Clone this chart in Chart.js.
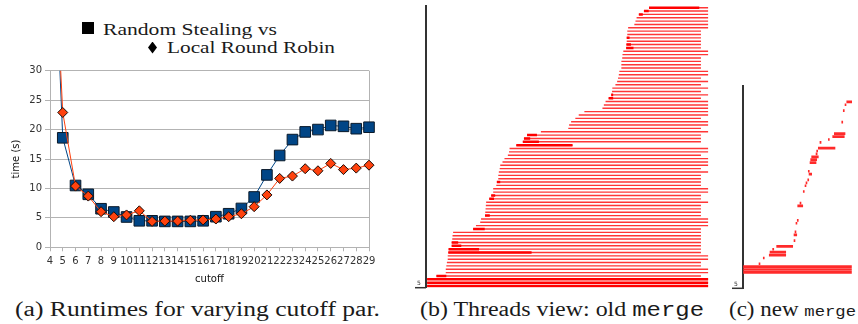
<!DOCTYPE html>
<html lang="en">
<head>
    <meta charset="UTF-8">
    <title>Runtimes and threads view</title>
    <script src="https://cdn.jsdelivr.net/npm/chart.js"></script>
    <style>
        body { margin: 0; background: #fff; }
        #page { position: relative; width: 858px; height: 324px; overflow: hidden; background: #fff; }
        .box { position: absolute; }
        .tx { position: absolute; white-space: nowrap; line-height: 1; color: #1a1a1a; transform-origin: 0 0;
              font-family: "Liberation Serif", "DejaVu Serif", serif; }
        .tt { font-family: "Liberation Mono", "DejaVu Sans Mono", monospace; }
        .sq { position: absolute; width: 11.5px; height: 11.5px; background: #000; }
        .dm { position: absolute; width: 9px; height: 12px; background: #000;
              clip-path: polygon(50% 0, 100% 50%, 50% 100%, 0 50%); }
    </style>
</head>
<body>
<div id="page">
    <!-- legend of panel (a) -->
    <div class="sq" style="left:82px;top:22px"></div>
    <div class="tx" style="left:103px;top:21.6px;font-size:16px" data-w="174">Random Stealing vs</div>
    <div class="dm" style="left:148px;top:41.5px"></div>
    <div class="tx" style="left:167px;top:39.9px;font-size:16px" data-w="168">Local Round Robin</div>

    <div class="box" style="left:0;top:60px"><canvas id="runtime" width="385" height="232"></canvas></div>
    <div class="box" style="left:400px;top:0"><canvas id="oldMerge" width="315" height="295"></canvas></div>
    <div class="box" style="left:720px;top:80px"><canvas id="newMerge" width="138" height="215"></canvas></div>

    <!-- captions -->
    <div class="tx" style="left:15px;top:299.3px;font-size:20px" data-w="365">(a) Runtimes for varying cutoff par.</div>
    <div class="tx" style="left:420px;top:299.3px;font-size:20px" data-w="284">(b) Threads view: old <span class="tt">merge</span></div>
    <div class="tx" style="left:729px;top:299.3px;font-size:20px" data-w="127">(c) new <span class="tt" style="font-size:15px">merge</span></div>
</div>

<script>
    // (a) runtimes, seconds
    const cutoff = [4, 5, 6, 7, 8, 9, 10, 11, 12, 13, 14, 15, 16, 17, 18, 19, 20, 21, 22, 23, 24, 25, 26, 27, 28, 29];
    const stealTimes = [70, 18.6, 10.5, 9.0, 6.55, 6.0, 5.15, 4.5, 4.5, 4.4, 4.4, 4.4, 4.5, 5.2, 5.7, 6.6, 8.55, 12.3, 15.6, 18.3, 19.6, 20.0, 20.7, 20.55, 20.15, 20.4];
    const robinTimes = [67, 22.9, 10.4, 8.7, 6.05, 5.2, 5.5, 6.2, 4.4, 4.45, 4.45, 4.6, 4.65, 4.8, 5.2, 5.7, 6.9, 8.9, 11.7, 12.1, 13.35, 13.0, 14.25, 13.2, 13.45, 13.95];
    const timeTicks = [0, 5, 10, 15, 20, 25, 30];

    // (b) old merge: one entry per thread, top row first, time in % of run
    const oldStart = [79.0, 77.2, 75.4, 74.6, 74.2, 73.8, 71.6, 71.3, 71.3, 71.1, 71.1, 71.0, 70.9, 69.9, 69.6, 69.5, 69.2, 69.2, 69.2, 68.5,
        68.3, 68.0, 67.7, 67.1, 66.0, 65.9, 65.6, 64.7, 63.6, 63.0, 62.5, 56.1, 54.1, 52.9, 51.4, 50.7, 50.4, 40.7, 35.8, 34.7,
        34.3, 32.0, 29.6, 29.4, 29.0, 27.8, 27.1, 26.3, 26.1, 25.8, 25.6, 25.6, 25.1, 24.9, 23.8, 23.8, 23.1, 22.4, 21.3, 21.2,
        21.1, 21.0, 20.9, 19.5, 19.2, 17.7, 16.7, 9.6, 9.4, 9.3, 9.1, 9.1, 8.0, 7.9, 7.7, 7.7, 7.4, 7.2, 7.0, 7.0,
        3.7, 0.4, 0.4, 0.4];
    const oldEnd = [100, 100, 100, 100, 100, 100, 100, 97.4, 97.4, 97.4, 97.4, 97.4, 97.4, 100, 100, 97.4, 97.4, 97.4, 97.4, 100,
        100, 97.4, 100, 97.4, 100, 97.4, 100, 97.4, 100, 100, 100, 100, 100, 97.4, 100, 100, 97.4, 100, 97.4, 97.4,
        97.4, 51.9, 100, 100, 97.4, 100, 100, 100, 97.4, 100, 97.4, 97.4, 97.4, 97.4, 100, 100, 97.4, 97.4, 100, 97.4,
        97.4, 97.4, 97.4, 100, 100, 100, 97.4, 97.4, 97.4, 97.4, 97.4, 97.4, 97.4, 97.4, 100, 100, 97.4, 97.4, 100, 100,
        97.4, 100, 100, 100];
    const oldBurstEnd = [96.8, 78.9, 76.8, null, null, null, null, null, null, 72.1, null, 72.6, 73.5, null, null, null, null, null, null, null,
        null, null, null, null, null, null, 66.3, 66.3, null, null, null, null, null, null, null, null, null, null, 39.3, 36.9,
        40.0, 51.9, null, null, null, null, null, null, null, null, null, null, 26.3, null, null, null, 24.5, 24.1, null, null,
        null, null, 22.6, null, null, null, 20.8, null, null, null, 11.4, 12.5, 18.8, 37.4, null, null, null, null, null, null,
        7.2, 100, 100, 100];

    // (c) new merge: thread row (0 = bottom), start and end in % of run
    const newRow = [0, 1, 2, 3, 5, 6, 7, 8, 9, 11, 13, 14, 17, 18, 23, 24, 28, 30, 31, 32, 34, 35, 38, 39, 40, 41, 42, 43, 45, 46, 47, 48, 52, 56, 58, 59];
    const newStart = [0.5, 0.5, 0.5, 14.7, 18.6, 24.1, 24.8, 27.2, 30.9, 46.8, 46.8, 47.7, 48.6, 49.8, 50.2, 52.3, 55.3, 56.9, 57.8, 59.4,
        60.6, 59.9, 61.5, 62.1, 63.0, 67.0, 67.6, 69.1, 70.6, 78.3, 82.3, 83.8, 90.6, 92.0, 93.6, 95.2];
    const newEnd = [99.5, 99.5, 99.5, 15.6, 19.5, 39.2, 39.2, 28.2, 45.6, 47.7, 49.3, 48.6, 49.5, 50.7, 54.8, 53.2, 56.2, 57.8, 58.7, 60.3,
        63.0, 60.8, 67.0, 67.6, 69.1, 68.0, 68.5, 84.4, 71.6, 79.2, 92.9, 93.6, 91.5, 92.9, 94.5, 99.7];

    const sans = '"DejaVu Sans", sans-serif';

    new Chart(document.getElementById('runtime'), {
        type: 'line',
        data: {
            labels: cutoff,
            datasets: [
                {
                    label: 'Local Round Robin', data: robinTimes, order: 0,
                    borderColor: '#ff420e', borderWidth: 1,
                    pointStyle: 'rectRot', pointRadius: 5,
                    pointBackgroundColor: '#ff420e', pointBorderColor: '#1a0a05', pointBorderWidth: 1
                },
                {
                    label: 'Random Stealing', data: stealTimes, order: 1,
                    borderColor: '#004586', borderWidth: 1,
                    pointStyle: 'rect', pointRadius: 7.5,
                    pointBackgroundColor: '#004586', pointBorderColor: '#0a1a2a', pointBorderWidth: 1
                }
            ]
        },
        options: {
            responsive: false,
            animation: false,
            layout: { padding: { left: 0, top: 10.7, right: 16, bottom: 4 } },
            plugins: { legend: { display: false }, tooltip: { enabled: false } },
            scales: {
                x: {
                    ticks: { autoSkip: false, maxRotation: 0, padding: 4, color: '#333', font: { family: sans, size: 10 } },
                    grid: {
                        tickLength: 4, tickColor: '#b3b3b3',
                        color: c => c.index === cutoff.length - 1 ? '#b3b3b3' : 'rgba(0,0,0,0)'
                    },
                    border: { color: '#b3b3b3' },
                    title: { display: true, text: 'cutoff', color: '#111', font: { family: sans, size: 10 }, padding: { top: 0, bottom: 3 } },
                    afterFit: s => { s.height = 40.7; }
                },
                y: {
                    min: 0, max: 30,
                    afterBuildTicks: s => { s.ticks = timeTicks.map(v => ({ value: v })); },
                    ticks: { padding: 3, color: '#333', font: { family: sans, size: 10 } },
                    grid: { tickLength: 5, color: '#b3b3b3', tickColor: '#b3b3b3' },
                    border: { color: '#b3b3b3' },
                    title: { display: true, text: 'time (s)', color: '#111', font: { family: sans, size: 10 }, padding: { top: 10, bottom: 0 } },
                    afterFit: s => { s.width = 50; }
                }
            }
        }
    });

    // little "5" foot under the thread axis
    const axisFoot = {
        id: 'axisFoot',
        afterDraw(chart) {
            const { ctx, chartArea: a } = chart;
            ctx.save();
            ctx.strokeStyle = '#333';
            ctx.lineWidth = 1.5;
            ctx.beginPath();
            ctx.moveTo(a.left - 11, a.bottom);
            ctx.lineTo(a.left, a.bottom);
            ctx.stroke();
            ctx.fillStyle = '#333';
            ctx.font = '6px ' + sans;
            ctx.fillText('5', a.left - 9, a.bottom - 2.5);
            ctx.restore();
        }
    };

    const threadScales = (yScale) => ({
        x: { type: 'linear', min: 0, max: 100, display: false },
        y: Object.assign(yScale, {
            ticks: { display: false },
            grid: { display: false, drawTicks: false },
            border: { display: true, color: '#333', width: 2 },
            afterFit: s => { s.width = 0; }
        })
    });

    new Chart(document.getElementById('oldMerge'), {
        type: 'bar',
        data: {
            labels: oldStart.map((s, i) => i + 1),
            datasets: [
                {
                    label: 'burst', data: oldBurstEnd.map((b, i) => b == null ? null : [oldStart[i], b]),
                    backgroundColor: '#ff0000', grouped: false, barPercentage: 0.75, categoryPercentage: 1
                },
                {
                    label: 'thread', data: oldStart.map((s, i) => [s, oldEnd[i]]),
                    backgroundColor: '#ff3636', grouped: false, barPercentage: 0.42, categoryPercentage: 1
                }
            ]
        },
        options: {
            indexAxis: 'y',
            responsive: false,
            animation: false,
            layout: { padding: { left: 26, top: 6, right: 6.7, bottom: 7.3 } },
            plugins: { legend: { display: false }, tooltip: { enabled: false } },
            scales: threadScales({ type: 'category' })
        },
        plugins: [axisFoot]
    });

    new Chart(document.getElementById('newMerge'), {
        type: 'bar',
        data: {
            datasets: [{
                label: 'thread', data: newRow.map((r, i) => ({ y: r, x: [newStart[i], newEnd[i]] })),
                backgroundColor: '#ff2a2a', barThickness: 2
            }]
        },
        options: {
            indexAxis: 'y',
            responsive: false,
            animation: false,
            layout: { padding: { left: 23, top: 6, right: 6, bottom: 6.7 } },
            plugins: { legend: { display: false }, tooltip: { enabled: false } },
            scales: threadScales({ type: 'linear', min: -0.5, max: 59.5 })
        },
        plugins: [axisFoot]
    });

    // stretch the serif texts to the widths they have in the figure
    document.querySelectorAll('[data-w]').forEach(el => {
        const w = el.getBoundingClientRect().width;
        el.style.transform = 'scaleX(' + (el.dataset.w / w) + ')';
    });
</script>
</body>
</html>
